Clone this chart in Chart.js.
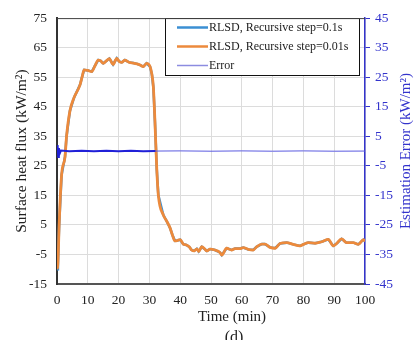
<!DOCTYPE html>
<html>
<head>
<meta charset="utf-8">
<script src="https://cdn.jsdelivr.net/npm/chart.js@4"></script>
<style>
  html, body { margin: 0; padding: 0; background: #fff; }
</style>
</head>
<body>
<canvas id="fluxChart" width="417" height="340"></canvas>
<script>
// ----- Data -----
// Surface heat flux estimate (kW/m2) vs time (min)
const fluxTime = [0, 0.3, 0.7, 1.5, 2.6, 3.1, 4.2, 5.5, 7.5, 8.2, 8.8, 10, 11.3, 12.3, 13.4, 14.2, 15, 16, 17, 18.2,
  19.4, 20.2, 21, 22, 23.5, 24.8, 26, 27, 28, 29.1, 30.2, 30.8, 31.3, 31.8, 32.4, 32.9, 34.5, 35.5, 36.7, 37.5,
  38.3, 39, 40, 41, 42, 43, 43.7, 44.5, 45.4, 46, 47, 48, 48.6, 49.7, 51.3, 52.9, 53.5, 55.1, 56.7, 57.8,
  59.4, 60.5, 62.1, 63.7, 64.8, 66.5, 67.5, 69.2, 70.8, 72.4, 74.6, 76.7, 78.9, 80, 81.6, 83.8, 85.9, 88.1,
  89.7, 90.8, 92.4, 94, 96.2, 97.8, 99.5, 100];
const fluxValue = [-10, -8, 5, 22, 28, 35, 43.6, 48, 52.5, 55.3, 57.5, 57.3, 56.9, 58.8, 60.8, 60.5, 59.7, 60.5, 61.3, 59.3,
  61.4, 60.3, 60, 60.8, 60, 59.8, 59.5, 59.1, 58.6, 59.7, 58.6, 56, 51.5, 40, 23.7, 15.1, 8.4, 6.5, 4, 1.5,
  -0.4, -0.3, 0, -1.5, -1.8, -2.5, -3.5, -3.8, -3.1, -4, -2.4, -3.2, -3.8, -3.2, -3.5, -4.3, -5.2, -2.9, -3.5, -3,
  -3, -2.7, -3.3, -3.5, -2.4, -1.5, -1.5, -2.6, -2.9, -1.3, -1, -1.6, -2.1, -1.6, -1, -1.2, -0.7, 0.1,
  -2.1, -1.3, 0.3, -1, -1, -1.6, 0, -0.5];

// Estimation error (kW/m2), right axis
const errTime = [0, 0.2, 0.4, 0.6, 0.9, 1.3, 4, 8, 12, 16, 20, 24, 28, 32, 40, 50, 60, 70, 80, 90, 100];
const errValue = [0, 2, -2, 1, -0.8, 0.2, -0.1, 0.1, -0.1, 0.1, -0.1, 0.1, -0.1, 0, 0.05, -0.05, 0.05, -0.05, 0.05, -0.05, 0];

const timeTicks = [0, 10, 20, 30, 40, 50, 60, 70, 80, 90, 100];
const seriesLabels = ["RLSD, Recursive step=0.1s", "RLSD, Recursive step=0.01s", "Error"];
const seriesColors = ["#3b8fd3", "#ec8a3c", "#8c8ce0"];

const serif = "'Liberation Serif', 'DejaVu Serif', serif";
const toPoints = (xs, ys) => xs.map((x, i) => ({ x: x, y: ys[i] }));

// ----- Plugins -----
// boxed legend inside the plot, top right
const boxLegend = {
  id: "boxLegend",
  afterDatasetsDraw(chart) {
    const ctx = chart.ctx;
    const x = 165, y = 18, w = 194, h = 57;
    ctx.save();
    ctx.fillStyle = "#fff";
    ctx.fillRect(x, y, w, h);
    ctx.strokeStyle = "#111";
    ctx.lineWidth = 1;
    ctx.strokeRect(x + 0.5, y + 0.5, w, h);
    ctx.font = "12px " + serif;
    ctx.textBaseline = "middle";
    seriesLabels.forEach((label, i) => {
      const ly = y + 9.5 + i * 19;
      ctx.strokeStyle = seriesColors[i];
      ctx.lineWidth = i === 2 ? 1.5 : 2.5;
      ctx.beginPath();
      ctx.moveTo(x + 12, ly);
      ctx.lineTo(x + 43, ly);
      ctx.stroke();
      ctx.fillStyle = "#222";
      ctx.fillText(label, x + 44, ly);
    });
    ctx.restore();
  }
};

// top frame line, axis titles and panel tag
const extras = {
  id: "extras",
  afterDraw(chart) {
    const ctx = chart.ctx;
    const a = chart.chartArea;
    const midY = (a.top + a.bottom) / 2;
    ctx.save();
    ctx.strokeStyle = "#444";
    ctx.lineWidth = 1;
    ctx.beginPath();
    ctx.moveTo(a.left, a.top + 0.5);
    ctx.lineTo(a.right, a.top + 0.5);
    ctx.stroke();

    ctx.textAlign = "center";
    ctx.textBaseline = "middle";

    // left title
    ctx.save();
    ctx.translate(22, midY);
    ctx.rotate(-Math.PI / 2);
    ctx.fillStyle = "#222";
    ctx.font = "15.5px " + serif;
    ctx.fillText("Surface heat flux (kW/m²)", 0, 0);
    ctx.restore();

    // right title, also reads bottom to top
    ctx.save();
    ctx.translate(406, midY);
    ctx.rotate(-Math.PI / 2);
    ctx.fillStyle = "#3333cc";
    ctx.font = "15px " + serif;
    ctx.fillText("Estimation Error (kW/m²)", 0, 0);
    ctx.restore();

    ctx.fillStyle = "#222";
    ctx.font = "15px " + serif;
    ctx.fillText("Time (min)", 232, 317);
    ctx.font = "16px " + serif;
    ctx.fillText("(d)", 234, 338);
    ctx.restore();
  }
};

// ----- Chart -----
const ctx = document.getElementById("fluxChart").getContext("2d");
new Chart(ctx, {
  type: "line",
  data: {
    datasets: [
      {
        label: seriesLabels[0],
        data: toPoints(fluxTime, fluxValue),
        borderColor: seriesColors[0],
        borderWidth: 2.5,
        pointRadius: 0,
        yAxisID: "y",
        order: 3
      },
      {
        label: seriesLabels[1],
        data: toPoints(fluxTime, fluxValue),
        borderColor: seriesColors[1],
        borderWidth: 2.8,
        pointRadius: 0,
        cubicInterpolationMode: "monotone",
        yAxisID: "y",
        order: 2
      },
      {
        label: seriesLabels[2],
        data: toPoints(errTime, errValue),
        borderColor: "#2424d8",
        borderWidth: 2,
        pointRadius: 0,
        yAxisID: "y2",
        order: 1,
        segment: {
          borderWidth: c => c.p0.parsed.x < 32 ? 2 : 1,
          borderColor: c => c.p0.parsed.x < 32 ? "#2020d8" : "#5a5ae0"
        }
      }
    ]
  },
  options: {
    responsive: false,
    animation: false,
    devicePixelRatio: 1,
    layout: { padding: { top: 12, left: 0, right: 0, bottom: 0 } },
    plugins: {
      legend: { display: false },
      tooltip: { enabled: false }
    },
    scales: {
      x: {
        type: "linear",
        min: 0,
        max: 100,
        afterBuildTicks: s => { s.ticks = timeTicks.map(v => ({ value: v })); },
        afterFit: s => { s.height = 56; },
        ticks: { color: "#222", font: { family: serif, size: 13.5 }, padding: 8, maxRotation: 0 },
        grid: { color: "#dcdcdc", lineWidth: 1, drawTicks: false },
        border: { color: "#555", width: 2 }
      },
      y: {
        position: "left",
        min: -15,
        max: 75,
        ticks: { stepSize: 10, color: "#222", font: { family: serif, size: 13.5 }, padding: 10 },
        afterFit: s => { s.width = 57; },
        grid: { color: "#dcdcdc", lineWidth: 1, drawTicks: false },
        border: { color: "#333", width: 2 }
      },
      y2: {
        position: "right",
        min: -45,
        max: 45,
        ticks: { stepSize: 10, color: "#3333cc", font: { family: serif, size: 13.5 }, padding: 5 },
        afterFit: s => { s.width = 52; },
        grid: { drawOnChartArea: false, color: "#3333cc", tickLength: 5 },
        border: { color: "#3333cc", width: 1.5 }
      }
    }
  },
  plugins: [boxLegend, extras]
});
</script>
</body>
</html>
